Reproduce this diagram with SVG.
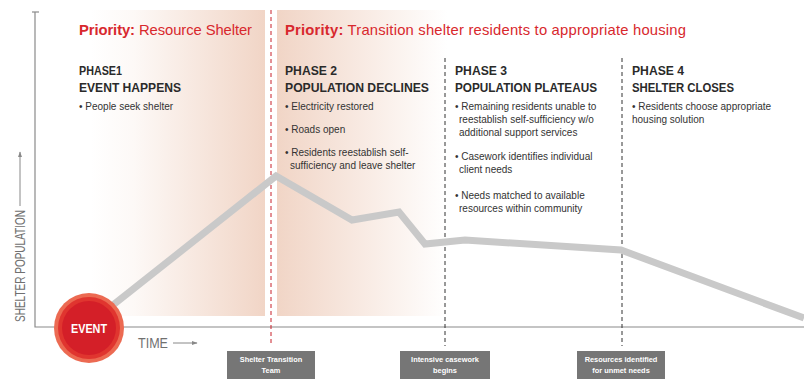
<svg xmlns="http://www.w3.org/2000/svg" width="804" height="379" viewBox="0 0 804 379">
<defs>
<linearGradient id="g1" x1="0" y1="0" x2="1" y2="0">
<stop offset="0" stop-color="#f1d5c6" stop-opacity="0"/>
<stop offset="0.25" stop-color="#f1d5c6" stop-opacity="0.15"/>
<stop offset="1" stop-color="#f1d5c6" stop-opacity="1"/>
</linearGradient>
<linearGradient id="g2" x1="0" y1="0" x2="1" y2="0">
<stop offset="0" stop-color="#f1d5c6" stop-opacity="1"/>
<stop offset="1" stop-color="#f1d5c6" stop-opacity="0"/>
</linearGradient>
<marker id="ah" viewBox="0 0 10 10" refX="9" refY="5" markerWidth="6" markerHeight="6" orient="auto-start-reverse" markerUnits="userSpaceOnUse">
<path d="M0,1.5 L10,5 L0,8.5 z" fill="#888"/>
</marker>
<style>
.pri{font-family:"Liberation Sans",Arial,sans-serif;font-size:14.8px;fill:#d8282d}
.pri .b{font-weight:bold}
.hd{font-family:"Liberation Sans",Arial,sans-serif;font-size:12.5px;font-weight:bold;fill:#2a2a2a}
.bl{font-family:"Liberation Sans",Arial,sans-serif;font-size:10px;fill:#333}
.ax{stroke:#8a8a8a;stroke-width:1.2;fill:none}
.axl{font-family:"Liberation Sans",Arial,sans-serif;font-size:14px;fill:#707070}
.dr{stroke:#c8202a;stroke-width:1;stroke-dasharray:4,3;fill:none}
.dk{stroke:#333;stroke-width:1;stroke-dasharray:4,3;fill:none}
.box{fill:#767676}
.bt{font-family:"Liberation Sans",Arial,sans-serif;font-size:7.4px;font-weight:bold;fill:#fff;text-anchor:middle}
</style>
</defs>
<rect width="804" height="379" fill="#fff"/>
<g id="bands">
<rect x="90" y="10" width="175" height="306" fill="url(#g1)"/>
<rect x="277" y="10" width="170" height="306" fill="url(#g2)"/>
</g>
<g id="axes">
<path class="ax" d="M35,12 V327 H804"/>
<path class="ax" d="M32,12 H39"/>
<text class="axl" x="138" y="348" textLength="30" lengthAdjust="spacingAndGlyphs">TIME</text>
<path d="M173,343 H197" stroke="#888" stroke-width="1" marker-end="url(#ah)"/>
<text class="axl" transform="translate(25,322) rotate(-90)" textLength="112" lengthAdjust="spacingAndGlyphs">SHELTER POPULATION</text>
<path d="M20,206 V152" stroke="#888" stroke-width="1" marker-end="url(#ah)"/>
</g>
<g id="connectors">
<path class="dr" d="M271,10 V346"/>
<path class="dk" d="M445,58 V346"/>
<path class="dk" d="M622,58 V346"/>
<polyline points="89,324 276,176 352,220 399,212 425,244 465,240 621,250 804,318" fill="none" stroke="#c9c9c9" stroke-width="7" stroke-linejoin="miter"/>
</g>
<g id="priority1">
<text class="pri" x="79" y="35" textLength="173"><tspan class="b">Priority:</tspan> Resource Shelter</text>
</g>
<g id="priority2">
<text class="pri" x="285" y="35" textLength="401"><tspan class="b">Priority:</tspan> Transition shelter residents to appropriate housing</text>
</g>
<g id="phase1">
<text class="hd" x="79" y="75" textLength="43" lengthAdjust="spacingAndGlyphs">PHASE1</text>
<text class="hd" x="79" y="92" textLength="102" lengthAdjust="spacingAndGlyphs">EVENT HAPPENS</text>
<text class="bl" x="79" y="110">• People seek shelter</text>
</g>
<g id="phase2">
<text class="hd" x="285" y="75" textLength="52" lengthAdjust="spacingAndGlyphs">PHASE 2</text>
<text class="hd" x="285" y="92" textLength="144" lengthAdjust="spacingAndGlyphs">POPULATION DECLINES</text>
<text class="bl" x="285" y="110">• Electricity restored</text>
<text class="bl" x="285" y="133">• Roads open</text>
<text class="bl" x="285" y="156">• Residents reestablish self-</text>
<text class="bl" x="290" y="169">sufficiency and leave shelter</text>
</g>
<g id="phase3">
<text class="hd" x="455" y="75" textLength="52" lengthAdjust="spacingAndGlyphs">PHASE 3</text>
<text class="hd" x="455" y="92" textLength="142" lengthAdjust="spacingAndGlyphs">POPULATION PLATEAUS</text>
<text class="bl" x="455" y="110">• Remaining residents unable to</text>
<text class="bl" x="459" y="123">reestablish self-sufficiency w/o</text>
<text class="bl" x="459" y="136">additional support services</text>
<text class="bl" x="455" y="160">• Casework identifies individual</text>
<text class="bl" x="459" y="173">client needs</text>
<text class="bl" x="455" y="199">• Needs matched to available</text>
<text class="bl" x="459" y="212">resources within community</text>
</g>
<g id="phase4">
<text class="hd" x="632" y="75" textLength="52" lengthAdjust="spacingAndGlyphs">PHASE 4</text>
<text class="hd" x="632" y="92" textLength="102" lengthAdjust="spacingAndGlyphs">SHELTER CLOSES</text>
<text class="bl" x="632" y="110">• Residents choose appropriate</text>
<text class="bl" x="632" y="123">housing solution</text>
</g>
<g id="event">
<circle cx="89" cy="328" r="35" fill="#ec6a52"/>
<circle cx="89" cy="328" r="31" fill="#e0352f"/>
<circle cx="89" cy="328" r="27" fill="#d41f28"/>
<text x="89" y="333" text-anchor="middle" font-family="Liberation Sans, Arial, sans-serif" font-size="13" font-weight="bold" fill="#fff" textLength="36" lengthAdjust="spacingAndGlyphs">EVENT</text>
</g>
<g id="milestone1">
<rect class="box" x="227" y="351" width="88" height="28"/>
<text class="bt" x="271" y="362">Shelter Transition</text>
<text class="bt" x="271" y="373">Team</text>
</g>
<g id="milestone2">
<rect class="box" x="400" y="351" width="90" height="28"/>
<text class="bt" x="445" y="362">Intensive casework</text>
<text class="bt" x="445" y="373">begins</text>
</g>
<g id="milestone3">
<rect class="box" x="577" y="351" width="88" height="28"/>
<text class="bt" x="621" y="362">Resources identified</text>
<text class="bt" x="621" y="373">for unmet needs</text>
</g>
</svg>
